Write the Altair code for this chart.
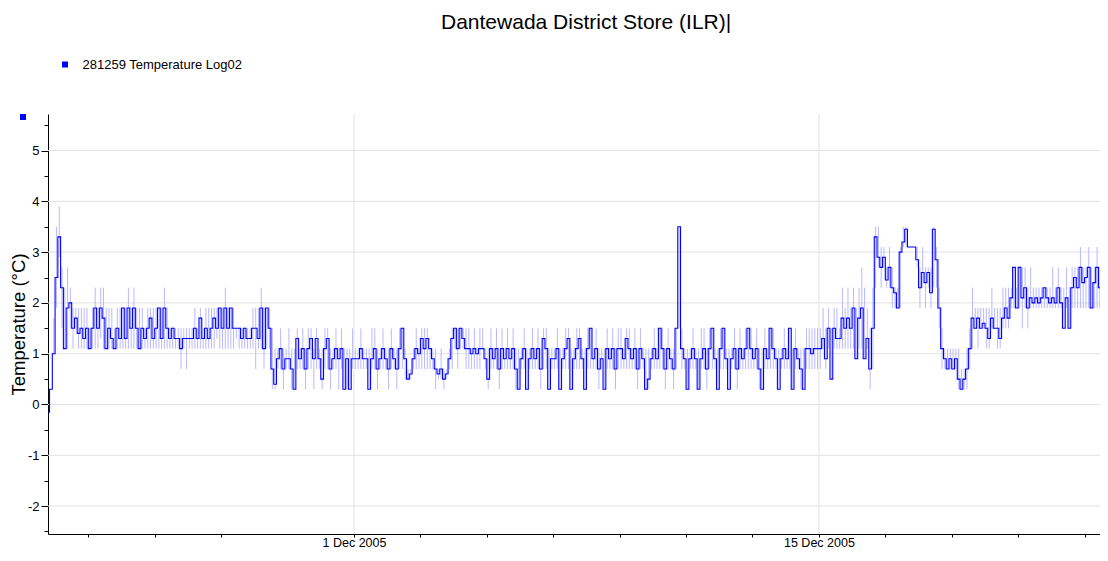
import altair as alt
import pandas as pd

SERIES = "281259 Temperature Log02"
TITLE = "Dantewada District Store (ILR)|"
START = "2005-11-21 19:00"   # first reading, then one reading every 2 hours

# temperature readings (°C), one row per day, readings at odd hours
temp_rows = [
    [-0.15, 0.3, 1.0],                                                   # 21 Nov 19-23h
    [2.5, 3.3, 2.3, 1.1, 1.9, 2.0, 1.5, 1.7, 1.4, 1.5, 1.3, 1.5],        # 22 Nov
    [1.1, 1.5, 1.9, 1.5, 1.9, 1.7, 1.1, 1.5, 1.3, 1.1, 1.5, 1.3],        # 23 Nov
    [1.9, 1.3, 1.9, 1.5, 1.9, 1.5, 1.1, 1.5, 1.3, 1.5, 1.7, 1.3],        # 24 Nov
    [1.5, 1.9, 1.3, 1.9, 1.5, 1.3, 1.5, 1.3, 1.3, 1.1, 1.3, 1.3],        # 25 Nov
    [1.3, 1.3, 1.5, 1.3, 1.7, 1.3, 1.5, 1.3, 1.5, 1.7, 1.5, 1.9],        # 26 Nov
    [1.5, 1.9, 1.5, 1.9, 1.5, 1.5, 1.5, 1.3, 1.5, 1.3, 1.3, 1.5],        # 27 Nov
    [1.5, 1.3, 1.9, 1.1, 1.9, 1.5, 0.7, 0.4, 0.9, 1.1, 0.7, 0.9],        # 28 Nov
    [0.9, 0.7, 0.3, 1.3, 0.9, 1.1, 0.7, 1.1, 1.3, 0.9, 1.3, 0.9],        # 29 Nov
    [0.5, 1.1, 1.3, 0.7, 0.9, 1.1, 0.9, 1.1, 0.3, 0.9, 0.3, 0.9],        # 30 Nov
    [0.9, 0.9, 1.1, 0.9, 0.9, 0.3, 0.9, 1.1, 0.7, 0.9, 1.1, 0.9],        # 1 Dec
    [0.7, 1.1, 0.9, 0.7, 1.1, 1.5, 0.9, 0.5, 0.6, 0.9, 1.1, 1.0],        # 2 Dec
    [1.3, 1.1, 1.3, 1.1, 0.9, 0.7, 0.6, 0.7, 0.5, 0.6, 0.9, 1.3],        # 3 Dec
    [1.5, 1.1, 1.5, 1.3, 1.1, 1.1, 1.0, 1.1, 1.0, 1.1, 1.1, 0.9],        # 4 Dec
    [0.5, 1.1, 0.9, 1.1, 0.7, 1.1, 0.9, 1.1, 0.9, 1.1, 0.7, 0.3],        # 5 Dec
    [0.9, 1.1, 0.3, 0.9, 1.1, 0.9, 1.1, 0.7, 1.3, 1.1, 0.3, 0.9],        # 6 Dec
    [0.9, 1.1, 0.3, 0.9, 1.1, 1.3, 0.3, 0.9, 1.1, 1.3, 0.9, 0.3],        # 7 Dec
    [1.1, 1.5, 0.9, 1.1, 0.7, 0.9, 0.3, 1.1, 0.9, 1.1, 0.7, 1.1],        # 8 Dec
    [1.1, 0.9, 1.3, 1.1, 0.9, 1.1, 0.7, 1.1, 0.9, 0.3, 0.5, 0.9],        # 9 Dec
    [1.1, 0.9, 1.5, 1.1, 0.7, 1.1, 0.9, 0.7, 1.5, 3.5, 1.1, 0.9],        # 10 Dec
    [0.3, 0.9, 1.1, 0.9, 0.3, 0.9, 1.1, 0.7, 1.1, 1.5, 0.9, 0.3],        # 11 Dec
    [1.1, 1.5, 0.9, 0.3, 0.9, 1.1, 0.7, 1.1, 0.9, 1.1, 1.5, 1.1],        # 12 Dec
    [0.9, 1.1, 0.7, 0.3, 1.1, 0.9, 1.5, 1.1, 0.9, 0.3, 0.9, 1.1],        # 13 Dec
    [0.9, 1.5, 0.3, 1.1, 0.9, 0.7, 0.3, 1.1, 1.1, 1.0, 1.1, 1.1],        # 14 Dec
    [1.1, 1.3, 0.9, 1.5, 0.5, 1.5, 1.3, 1.3, 1.7, 1.5, 1.7, 1.5],        # 15 Dec
    [1.9, 0.9, 1.7, 1.9, 0.9, 1.3, 0.7, 1.5, 3.3, 2.9, 2.7, 2.9],        # 16 Dec
    [2.45, 2.7, 2.3, 2.2, 1.9, 3.0, 3.2, 3.45, 3.1, 3.1, 3.1, 2.85],     # 17 Dec
    [2.3, 2.6, 2.4, 2.6, 2.2, 3.45, 2.85, 1.9, 1.1, 0.9, 0.7, 0.9],      # 18 Dec
    [0.7, 0.9, 0.5, 0.3, 0.5, 0.7, 1.1, 1.7, 1.5, 1.7, 1.5, 1.6],        # 19 Dec
    [1.5, 1.3, 1.7, 1.5, 1.5, 1.3, 1.7, 1.9, 1.7, 2.1, 2.7, 1.9],        # 20 Dec
    [2.7, 2.1, 2.3, 1.9, 2.1, 2.0, 2.1, 2.0, 2.1, 2.3, 2.1, 2.0],        # 21 Dec
    [2.1, 2.0, 2.3, 2.0, 1.5, 2.1, 1.5, 2.3, 2.5, 2.3, 2.7, 2.4],        # 22 Dec
    [2.5, 2.7, 1.9, 2.4, 2.7, 2.3, 2.5, 1.9, 2.5],                      # 23 Dec 1-17h
]

# highest short-lived reading in each 2-hour slot (light spikes)
high_rows = [
    [-0.15, 0.3, 1.7],
    [3.5, 3.9, 2.7, 2.3, 2.7, 2.3, 1.9, 1.9, 1.9, 1.9, 1.9, 1.9],
    [1.5, 1.9, 2.3, 1.9, 2.3, 2.3, 1.9, 1.9, 1.9, 1.5, 1.9, 1.9],
    [1.9, 1.9, 2.3, 1.9, 2.3, 1.9, 1.9, 1.9, 1.5, 1.9, 1.9, 1.9],
    [1.9, 1.9, 1.9, 2.3, 1.9, 1.5, 1.5, 1.5, 1.5, 1.5, 1.5, 1.5],
    [1.5, 1.5, 1.9, 1.5, 1.9, 1.5, 1.9, 1.9, 1.9, 1.9, 1.9, 1.9],
    [1.9, 2.3, 1.9, 1.9, 1.9, 1.5, 1.5, 1.5, 1.5, 1.5, 1.5, 1.9],
    [1.9, 1.9, 2.3, 1.9, 1.9, 1.9, 1.5, 1.1, 1.1, 1.5, 1.1, 1.1],
    [1.5, 1.1, 1.1, 1.5, 1.1, 1.5, 1.1, 1.5, 1.5, 1.1, 1.5, 1.1],
    [1.1, 1.5, 1.5, 1.1, 1.1, 1.5, 1.1, 1.5, 1.1, 1.1, 1.1, 1.5],
    [1.1, 1.1, 1.5, 1.1, 1.1, 1.1, 1.5, 1.5, 1.1, 1.1, 1.5, 1.1],
    [1.1, 1.5, 1.1, 1.1, 1.5, 1.5, 1.1, 0.7, 0.7, 1.1, 1.5, 1.1],
    [1.5, 1.5, 1.5, 1.1, 1.1, 1.1, 0.7, 1.1, 0.7, 0.7, 1.1, 1.5],
    [1.5, 1.5, 1.5, 1.5, 1.5, 1.5, 1.1, 1.5, 1.1, 1.5, 1.5, 1.1],
    [1.1, 1.5, 1.1, 1.5, 1.1, 1.5, 1.1, 1.5, 1.1, 1.5, 1.1, 1.1],
    [1.1, 1.5, 1.1, 1.1, 1.5, 1.1, 1.5, 1.1, 1.5, 1.5, 1.1, 1.1],
    [1.1, 1.5, 1.1, 1.1, 1.5, 1.5, 1.1, 1.1, 1.5, 1.5, 1.1, 1.1],
    [1.5, 1.5, 1.1, 1.5, 1.1, 1.1, 1.1, 1.5, 1.1, 1.5, 1.1, 1.5],
    [1.5, 1.1, 1.5, 1.5, 1.1, 1.5, 1.1, 1.5, 1.1, 1.1, 1.1, 1.1],
    [1.5, 1.1, 1.5, 1.5, 1.1, 1.5, 1.1, 1.1, 1.5, 3.5, 1.5, 1.1],
    [1.1, 1.1, 1.5, 1.1, 1.1, 1.5, 1.5, 1.1, 1.5, 1.5, 1.1, 1.1],
    [1.5, 1.5, 1.1, 1.1, 1.1, 1.5, 1.1, 1.5, 1.1, 1.5, 1.5, 1.5],
    [1.1, 1.5, 1.1, 1.1, 1.5, 1.1, 1.5, 1.5, 1.1, 1.1, 1.1, 1.5],
    [1.1, 1.5, 1.1, 1.5, 1.1, 1.1, 1.1, 1.5, 1.5, 1.5, 1.5, 1.5],
    [1.5, 1.9, 1.5, 1.9, 1.5, 1.9, 1.9, 1.5, 2.3, 1.9, 2.3, 1.9],
    [2.3, 1.9, 2.3, 2.7, 2.3, 1.9, 1.5, 2.3, 3.5, 3.5, 3.1, 3.1],
    [2.7, 3.1, 2.7, 2.3, 2.3, 3.1, 3.5, 3.5, 3.1, 3.1, 3.1, 3.1],
    [2.7, 3.1, 2.7, 2.7, 2.7, 3.5, 3.1, 2.3, 1.5, 1.1, 1.1, 1.1],
    [1.1, 1.1, 1.1, 0.7, 0.7, 1.1, 1.5, 2.3, 1.9, 1.9, 1.9, 1.9],
    [1.9, 1.9, 2.3, 1.9, 1.9, 1.9, 2.3, 2.3, 2.3, 2.3, 2.7, 2.3],
    [2.7, 2.7, 2.7, 2.3, 2.7, 2.3, 2.3, 2.3, 2.3, 2.3, 2.3, 2.3],
    [2.7, 2.3, 2.7, 2.3, 2.3, 2.7, 2.3, 2.7, 2.7, 2.7, 3.1, 2.7],
    [2.7, 3.1, 2.7, 2.7, 3.1, 2.7, 2.7, 3.1, 2.7],
]

# lowest short-lived reading in each 2-hour slot (light spikes)
low_rows = [
    [-0.15, 0.3, 1.0],
    [1.9, 2.9, 1.5, 1.1, 1.1, 1.5, 1.1, 1.5, 1.1, 1.1, 1.1, 1.1],
    [1.1, 1.1, 1.1, 1.1, 1.3, 1.1, 1.1, 1.1, 1.1, 1.1, 1.1, 1.1],
    [1.1, 1.1, 1.1, 1.1, 1.1, 1.1, 1.1, 1.1, 1.1, 1.1, 1.1, 1.1],
    [1.1, 1.1, 1.1, 1.1, 1.1, 1.1, 1.1, 1.1, 1.1, 0.7, 1.1, 0.7],
    [1.1, 1.1, 1.1, 1.1, 1.1, 1.1, 1.1, 1.1, 1.1, 1.1, 1.3, 1.1],
    [1.1, 1.1, 1.1, 1.1, 1.1, 1.3, 1.1, 1.1, 1.1, 1.1, 1.1, 1.1],
    [0.7, 1.1, 1.1, 0.7, 1.1, 1.1, 0.3, 0.3, 0.7, 0.7, 0.3, 0.7],
    [0.7, 0.3, 0.3, 0.7, 0.7, 0.7, 0.3, 0.7, 0.7, 0.3, 0.7, 0.7],
    [0.3, 0.7, 0.7, 0.3, 0.7, 0.7, 0.3, 0.7, 0.3, 0.3, 0.3, 0.7],
    [0.7, 0.7, 0.7, 0.7, 0.7, 0.3, 0.7, 0.7, 0.3, 0.7, 0.7, 0.7],
    [0.3, 0.7, 0.7, 0.3, 0.7, 0.7, 0.5, 0.5, 0.5, 0.7, 0.7, 0.7],
    [0.7, 0.7, 0.7, 0.7, 0.7, 0.3, 0.5, 0.5, 0.3, 0.5, 0.7, 0.7],
    [1.1, 0.7, 1.1, 1.1, 0.7, 0.7, 0.7, 0.7, 0.7, 0.7, 1.1, 0.7],
    [0.3, 0.7, 0.7, 0.7, 0.3, 0.7, 0.7, 0.7, 0.7, 0.7, 0.3, 0.3],
    [0.7, 0.7, 0.3, 0.7, 0.7, 0.7, 0.7, 0.3, 0.7, 0.7, 0.3, 0.7],
    [0.7, 0.7, 0.3, 0.7, 0.7, 0.7, 0.3, 0.7, 0.7, 0.7, 0.7, 0.3],
    [0.7, 0.7, 0.7, 0.7, 0.3, 0.7, 0.3, 0.7, 0.7, 0.7, 0.3, 0.7],
    [0.7, 0.7, 0.7, 0.7, 0.7, 0.7, 0.3, 0.7, 0.7, 0.3, 0.3, 0.7],
    [0.7, 0.7, 0.7, 0.7, 0.3, 0.7, 0.7, 0.3, 0.7, 1.5, 0.7, 0.7],
    [0.3, 0.7, 0.7, 0.7, 0.3, 0.7, 0.7, 0.3, 0.7, 0.7, 0.7, 0.3],
    [0.7, 0.7, 0.7, 0.3, 0.7, 0.7, 0.3, 0.7, 0.7, 0.7, 0.7, 0.7],
    [0.7, 0.7, 0.3, 0.3, 0.7, 0.7, 0.7, 0.7, 0.7, 0.3, 0.7, 0.7],
    [0.7, 0.7, 0.3, 0.7, 0.7, 0.3, 0.3, 0.7, 0.7, 0.7, 0.7, 0.7],
    [0.7, 1.1, 0.7, 1.1, 0.5, 1.1, 1.1, 1.1, 1.1, 1.1, 1.1, 1.1],
    [1.1, 0.9, 1.1, 1.1, 0.9, 1.1, 0.3, 0.7, 2.3, 2.7, 2.3, 2.7],
    [2.3, 2.3, 1.9, 1.9, 1.9, 1.9, 3.1, 3.1, 3.1, 3.1, 3.1, 2.7],
    [1.9, 2.3, 1.9, 2.3, 1.9, 2.3, 2.3, 1.5, 0.7, 0.7, 0.7, 0.7],
    [0.7, 0.7, 0.3, 0.3, 0.3, 0.3, 0.7, 1.1, 1.5, 1.1, 1.5, 1.5],
    [1.1, 1.1, 1.5, 1.5, 1.1, 1.1, 1.5, 1.5, 1.5, 1.9, 1.9, 1.9],
    [1.9, 1.5, 1.9, 1.5, 1.9, 1.9, 1.9, 1.9, 1.9, 1.9, 1.9, 1.9],
    [1.9, 1.9, 1.9, 1.9, 1.5, 1.9, 1.5, 1.9, 1.9, 1.9, 1.9, 1.9],
    [1.9, 1.9, 1.9, 1.9, 1.9, 1.9, 1.9, 1.9, 1.9],
]

y_ticks = [-2.5, -2, -1.5, -1, -0.5, 0, 0.5, 1, 1.5, 2, 2.5, 3, 3.5, 4, 4.5, 5, 5.5]
y_grid = [-2, -1, 0, 1, 2, 3, 4, 5]
x_tick_days = [(11, 23), (11, 25), (11, 27), (12, 1), (12, 3), (12, 5), (12, 7),
               (12, 9), (12, 11), (12, 13), (12, 15), (12, 17), (12, 19),
               (12, 21), (12, 23)]
x_grid = ["2005-12-01T00:00:00", "2005-12-15T00:00:00"]

temp = [v for row in temp_rows for v in row]
high = [v for row in high_rows for v in row]
low = [v for row in low_rows for v in row]
times = pd.date_range(START, periods=len(temp), freq="2h").strftime("%Y-%m-%dT%H:%M:%S")

df = pd.DataFrame({"time": list(times), "temp": temp, "hi": high, "lo": low})
grid_y_df = pd.DataFrame({"v": y_grid})
grid_x_df = pd.DataFrame({"d": x_grid})
series_df = pd.DataFrame({"series": [SERIES]})

FONT = "Liberation Sans"
x_scale = alt.Scale(domain=[alt.DateTime(year=2005, month=11, date=21, hours=18, minutes=53),
                            alt.DateTime(year=2005, month=12, date=23, hours=11, minutes=8)])
y_scale = alt.Scale(domain=[-2.55, 5.72], nice=False, zero=False)

is_major_x = "date(datum.value) == 1 || date(datum.value) == 15"
x_axis = alt.Axis(
    values=[alt.DateTime(year=2005, month=m, date=d) for m, d in x_tick_days],
    labelExpr=f"({is_major_x}) ? timeFormat(datum.value, '%-d %b %Y') : ''",
    grid=False, title=None, domainColor="black", tickColor="black",
    tickSize=3,
    labelFont=FONT, labelFontSize=12.5, labelColor="black", labelPadding=-1,
    labelOverlap=False, labelFlush=False,
)
y_axis = alt.Axis(
    values=y_ticks,
    labelExpr="datum.value % 1 == 0 ? '' + datum.value : ''",
    grid=False, domainColor="black", tickColor="black",
    tickSize={"condition": {"test": "datum.value % 1 == 0", "value": 7}, "value": 4},
    labelFont=FONT, labelFontSize=13, labelColor="black", labelPadding=2,
    title="Temperature (°C)", titleFont=FONT, titleFontSize=18.5, titleFontWeight="normal",
    titleColor="black", titleX=-29.5, titleY=210, titleAngle=-90, titleBaseline="middle",
    titleAlign="center",
)

hgrid = alt.Chart(grid_y_df).mark_rule(color="#e2e2e2", strokeWidth=1).encode(
    y=alt.Y("v:Q", scale=y_scale, axis=y_axis)
)
vgrid = alt.Chart(grid_x_df).mark_rule(color="#e2e2e2", strokeWidth=1).encode(
    x=alt.X("d:T", scale=x_scale, axis=x_axis)
)
spikes = alt.Chart(df).mark_rule(color="#b9b9ff", strokeWidth=1, clip=True).encode(
    x=alt.X("time:T", scale=x_scale, axis=x_axis),
    y=alt.Y("lo:Q", scale=y_scale, axis=y_axis),
    y2="hi:Q",
)
line = alt.Chart(df).mark_line(color="#0000ff", strokeWidth=1.1, clip=True,
                               interpolate="step").encode(
    x=alt.X("time:T", scale=x_scale, axis=x_axis),
    y=alt.Y("temp:Q", scale=y_scale, axis=y_axis),
)
marker = alt.Chart(series_df).mark_point(shape="square", filled=True, size=36, opacity=1).encode(
    x=alt.value(-25), y=alt.value(3),
    color=alt.Color("series:N", scale=alt.Scale(range=["#0000ff"]),
                    legend=alt.Legend(title=None, orient="none", legendX=10.5, legendY=-56,
                                      symbolType="square", symbolSize=36, symbolStrokeWidth=0,
                                      labelFont=FONT, labelFontSize=13, labelColor="black",
                                      labelOffset=11, padding=0)),
)

chart = alt.layer(hgrid, vgrid, spikes, line, marker).properties(
    width=1052, height=420,
    autosize=alt.AutoSizeParams(type="none"),
    padding={"left": 40, "top": 106, "right": 0, "bottom": 15},
    title=alt.TitleParams(text=TITLE, anchor="start", dx=393, offset=8, baseline="alphabetic",
                          font=FONT, fontSize=21, fontWeight="normal", color="black", frame="group"),
    background="white",
).configure_view(stroke=None)

chart.save("out.html", embed_options={"renderer": "svg", "actions": False})
